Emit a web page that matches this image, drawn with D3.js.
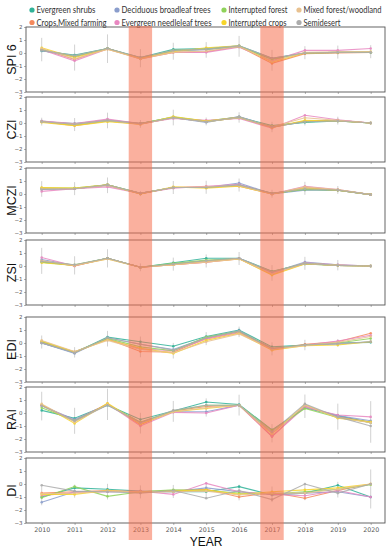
<!DOCTYPE html>
<html>
<head>
<meta charset="utf-8">
<script src="https://cdn.jsdelivr.net/npm/d3@7/dist/d3.min.js"></script>
<style>
  body { margin: 0; background: #fff; }
  svg { display: block; }
</style>
</head>
<body>
<svg id="chart" width="392" height="550"></svg>
<script>
var years = [2010, 2011, 2012, 2013, 2014, 2015, 2016, 2017, 2018, 2019, 2020];
var seriesNames = ["Evergreen shrubs", "Crops,Mixed farming", "Deciduous broadleaf trees", "Evergreen needleleaf trees",
  "Interrupted forest", "Interrupted crops", "Mixed forest/woodland", "Semidesert"];
var seriesColors = ["#2fb298", "#f4895c", "#8a9dcc", "#e887c1", "#8fd25a", "#f7d52a", "#e8c190", "#acacac"];
var indexNames = ["SPI 6", "CZI", "MCZI", "ZSI", "EDI", "RAI", "DI"];
var yTicks = [2, 1, 0, -1, -2, -3];
var droughtYears = [2013, 2017];

// one row per land cover class, same order as seriesNames
var spi6 = [
  [0.15, -0.15, 0.35, -0.35, 0.28, 0.35, 0.55, -0.4, 0.0, 0.05, 0.05],
  [0.3, -0.5, 0.35, -0.45, 0.05, 0.1, 0.5, -0.8, -0.05, 0.0, 0.05],
  [0.2, -0.3, 0.35, -0.4, 0.15, 0.25, 0.5, -0.45, 0.0, 0.05, 0.05],
  [0.25, -0.6, 0.3, -0.4, 0.05, 0.05, 0.45, -0.6, 0.2, 0.2, 0.35],
  [0.25, -0.25, 0.35, -0.4, 0.2, 0.3, 0.5, -0.5, 0.0, 0.05, 0.05],
  [0.4, -0.35, 0.3, -0.4, 0.1, 0.4, 0.55, -0.7, 0.0, 0.05, 0.1],
  [0.35, -0.45, 0.3, -0.45, 0.05, 0.15, 0.5, -0.65, 0.05, 0.1, 0.1],
  [0.2, -0.2, 0.35, -0.35, 0.2, 0.3, 0.55, -0.4, 0.0, 0.05, 0.05]
];
var czi = [
  [0.1, -0.05, 0.2, -0.05, 0.45, 0.15, 0.45, -0.2, 0.05, 0.15, 0.0],
  [0.1, -0.2, 0.15, -0.1, 0.4, 0.1, 0.4, -0.35, 0.15, 0.2, 0.0],
  [0.15, -0.1, 0.25, -0.05, 0.4, 0.05, 0.5, -0.3, 0.1, 0.2, 0.0],
  [0.15, -0.05, 0.3, -0.05, 0.35, 0.2, 0.35, -0.4, 0.6, 0.25, 0.0],
  [0.1, -0.15, 0.15, -0.05, 0.45, 0.1, 0.4, -0.25, 0.1, 0.15, 0.0],
  [0.05, -0.2, 0.1, -0.1, 0.5, 0.15, 0.45, -0.35, 0.2, 0.15, 0.0],
  [0.1, -0.1, 0.2, -0.1, 0.4, 0.1, 0.4, -0.3, 0.4, 0.2, 0.0],
  [0.1, -0.1, 0.2, -0.05, 0.4, 0.1, 0.45, -0.3, 0.1, 0.15, 0.0]
];
var mczi = [
  [0.4, 0.4, 0.7, 0.05, 0.5, 0.5, 0.7, 0.05, 0.35, 0.3, -0.05],
  [0.45, 0.4, 0.7, 0.0, 0.5, 0.55, 0.6, 0.0, 0.5, 0.3, -0.05],
  [0.35, 0.4, 0.65, 0.05, 0.5, 0.5, 0.85, 0.0, 0.3, 0.3, -0.05],
  [0.2, 0.4, 0.55, 0.05, 0.45, 0.6, 0.75, 0.0, 0.6, 0.35, -0.05],
  [0.45, 0.45, 0.7, 0.05, 0.5, 0.5, 0.65, 0.05, 0.35, 0.3, -0.05],
  [0.5, 0.45, 0.7, 0.0, 0.55, 0.45, 0.6, 0.0, 0.45, 0.3, -0.05],
  [0.4, 0.4, 0.65, 0.05, 0.5, 0.55, 0.65, 0.0, 0.55, 0.35, -0.05],
  [0.35, 0.4, 0.7, 0.05, 0.5, 0.5, 0.7, 0.05, 0.4, 0.3, -0.05]
];
var zsi = [
  [0.3, 0.05, 0.6, -0.1, 0.25, 0.6, 0.6, -0.4, 0.15, 0.05, 0.0],
  [0.4, 0.0, 0.6, -0.1, 0.1, 0.3, 0.55, -0.65, 0.2, 0.05, 0.0],
  [0.5, 0.05, 0.6, -0.1, 0.15, 0.4, 0.6, -0.5, 0.3, 0.1, 0.0],
  [0.65, 0.0, 0.6, -0.1, 0.1, 0.3, 0.6, -0.55, 0.25, 0.1, 0.0],
  [0.3, 0.1, 0.6, -0.1, 0.2, 0.45, 0.55, -0.45, 0.2, 0.05, 0.0],
  [0.25, 0.05, 0.55, -0.1, 0.1, 0.35, 0.55, -0.7, 0.15, 0.05, 0.0],
  [0.4, 0.05, 0.55, -0.1, 0.1, 0.3, 0.55, -0.6, 0.2, 0.05, 0.0],
  [0.35, 0.1, 0.6, -0.1, 0.15, 0.4, 0.6, -0.45, 0.2, 0.05, 0.0]
];
var edi = [
  [0.0, -0.75, 0.45, 0.1, -0.25, 0.5, 1.0, -0.3, -0.15, 0.0, 0.05],
  [0.1, -0.7, 0.3, -0.65, -0.7, 0.35, 0.85, -0.5, -0.1, 0.1, 0.75],
  [0.0, -0.8, 0.4, -0.1, -0.5, 0.4, 0.95, -0.45, -0.15, -0.1, 0.1],
  [0.05, -0.7, 0.3, -0.45, -0.6, 0.3, 0.8, -0.5, -0.15, 0.15, 0.6],
  [0.1, -0.7, 0.35, -0.3, -0.6, 0.45, 0.9, -0.4, -0.15, 0.0, 0.35],
  [0.15, -0.7, 0.25, -0.4, -0.8, 0.2, 0.75, -0.55, -0.2, -0.15, 0.1],
  [0.2, -0.65, 0.2, -0.5, -0.75, 0.1, 0.7, -0.5, -0.2, 0.05, 0.5],
  [0.0, -0.75, 0.4, -0.1, -0.55, 0.4, 0.9, -0.4, -0.15, -0.05, 0.1]
];
var rai = [
  [0.2, -0.4, 0.6, -0.5, 0.15, 0.85, 0.65, -1.3, 0.4, -0.2, -0.75],
  [0.6, -0.6, 0.7, -0.9, 0.15, 0.5, 0.6, -1.8, 0.55, -0.3, -0.7],
  [0.55, -0.5, 0.65, -0.75, 0.1, 0.1, 0.6, -1.55, 0.45, -0.2, -0.6],
  [0.6, -0.6, 0.7, -1.0, 0.05, 0.0, 0.6, -1.8, 0.45, -0.15, -0.3],
  [0.4, -0.6, 0.65, -0.7, 0.15, 0.6, 0.6, -1.35, 0.35, -0.35, -0.7],
  [0.65, -0.8, 0.75, -0.85, 0.1, 0.35, 0.6, -1.6, 0.65, -0.4, -0.7],
  [0.7, -0.7, 0.65, -0.8, 0.1, 0.4, 0.6, -1.6, 0.6, -0.35, -0.75],
  [0.55, -0.6, 0.6, -0.75, 0.2, 0.6, 0.6, -1.45, 0.7, -0.3, -1.0]
];
var di = [
  [-1.0, -0.3, -0.4, -0.55, -0.6, -0.6, -0.2, -0.85, -0.7, -0.1, -1.0],
  [-0.7, -0.6, -0.5, -0.6, -0.5, -0.4, -1.0, -0.65, -1.1, -0.5, 0.0],
  [-1.4, -0.6, -0.6, -0.6, -0.6, -0.3, -0.6, -0.8, -0.7, -0.6, -1.0],
  [-0.9, -0.65, -0.6, -0.55, -0.8, 0.05, -0.6, -0.8, -0.9, -0.5, -1.0],
  [-1.05, -0.2, -0.95, -0.6, -0.45, -0.5, -0.7, -0.75, -0.6, -0.4, -0.05],
  [-0.8, -0.8, -0.5, -0.65, -0.55, -0.45, -0.8, -0.6, -0.45, -0.3, 0.0],
  [-0.75, -0.7, -0.55, -0.6, -0.6, -0.55, -0.85, -0.7, -0.7, -0.4, 0.0],
  [-0.1, -0.55, -0.6, -0.7, -0.5, -1.1, -0.5, -1.2, 0.0, -0.7, 0.0]
];
var indexValues = [spi6, czi, mczi, zsi, edi, rai, di];

// error bar half-widths per year, one row per index
var indexErrors = [
  [0.9, 1.0, 1.1, 0.7, 0.65, 0.6, 0.8, 0.8, 0.5, 0.5, 0.5],
  [0.3, 0.5, 0.6, 0.3, 0.6, 0.3, 0.4, 0.4, 0.4, 0.3, 0.1],
  [0.6, 0.5, 0.6, 0.2, 0.5, 0.5, 0.5, 0.3, 0.5, 0.3, 0.1],
  [1.0, 0.7, 0.7, 0.3, 0.5, 0.5, 0.5, 0.6, 0.5, 0.4, 0.1],
  [0.5, 0.4, 0.6, 0.8, 0.6, 0.5, 0.4, 0.5, 0.4, 0.3, 0.3],
  [1.1, 1.0, 1.2, 0.8, 0.8, 0.7, 0.8, 0.7, 0.9, 1.0, 1.6],
  [0.8, 0.5, 0.6, 0.5, 0.5, 0.6, 0.6, 0.6, 0.6, 0.6, 1.5]
];

var svg = d3.select("#chart");
var left = 26, right = 385;
var panelTops = [27, 97, 168, 240, 317, 387, 458];
var panelH = 65;

var x = d3.scaleLinear().domain([2010, 2020]).range([41.7, 370.7]);

// legend (matplotlib ncol=4 fills column-major)
var legendX = [32, 117, 224, 299];
var legendY = [10, 22.5];
var legendTextW = [59, 70, 89, 90, 59, 58, 78, 37];
var legend = svg.append("g").attr("class", "legend");
seriesNames.forEach(function(name, i) {
  var col = Math.floor(i / 2), row = i % 2;
  var g = legend.append("g").attr("transform", "translate(" + legendX[col] + "," + legendY[row] + ")");
  g.append("circle").attr("r", 2.6).attr("fill", seriesColors[i]);
  g.append("text").attr("x", 4.5).attr("y", 3)
    .attr("font-family", "Lato, sans-serif").attr("font-size", 8.5).attr("fill", "#333")
    .attr("textLength", legendTextW[i]).attr("lengthAdjust", "spacingAndGlyphs")
    .text(name);
});

indexNames.forEach(function(label, k) {
  var top = panelTops[k];
  var y = d3.scaleLinear().domain([-3, 2]).range([top + panelH, top]);
  var g = svg.append("g").attr("class", "panel");

  g.append("rect").attr("x", left).attr("y", top).attr("width", right - left).attr("height", panelH)
    .attr("fill", "none").attr("stroke", "#555").attr("stroke-width", 0.9);

  var yAxis = d3.axisLeft(y).tickValues(yTicks).tickSize(2).tickFormat(d3.format("d"));
  var ya = g.append("g").attr("transform", "translate(" + left + ",0)").call(yAxis);
  ya.select(".domain").remove();
  ya.selectAll("line").attr("stroke", "#666").attr("stroke-width", 0.5);
  ya.selectAll("text").attr("font-size", 5.5).attr("fill", "#555").attr("x", -3.5)
    .attr("font-family", "DejaVu Sans, sans-serif").text(function(d) { return d < 0 ? "\u2212" + Math.abs(d) : d; });

  var xAxis = d3.axisBottom(x).tickValues(years).tickSize(2).tickFormat(k == indexNames.length - 1 ? d3.format("d") : "");
  var xa = g.append("g").attr("transform", "translate(0," + (top + panelH) + ")").call(xAxis);
  xa.select(".domain").remove();
  xa.selectAll("line").attr("stroke", "#666").attr("stroke-width", 0.5);
  xa.selectAll("text").attr("font-size", 6.3).attr("fill", "#555").attr("y", 5)
    .attr("font-family", "DejaVu Sans, sans-serif");

  g.append("text").attr("transform", "translate(16," + (top + panelH / 2) + ") rotate(-90)")
    .attr("text-anchor", "middle").attr("font-family", "Liberation Sans, Arial, sans-serif")
    .attr("font-size", 12.5).attr("fill", "#111").text(label);

  var values = indexValues[k];
  var errs = indexErrors[k];

  // error bars around the class mean
  years.forEach(function(yr, j) {
    var m = d3.mean(values, function(s) { return s[j]; });
    g.append("line").attr("x1", x(yr)).attr("x2", x(yr))
      .attr("y1", y(Math.min(2, m + errs[j]))).attr("y2", y(Math.max(-3, m - errs[j])))
      .attr("stroke", "#b8b8b8").attr("stroke-width", 0.9).attr("opacity", 0.7);
  });

  var line = d3.line().x(function(d, j) { return x(years[j]); }).y(function(d) { return y(d); });
  values.forEach(function(s, i) {
    g.append("path").datum(s).attr("d", line).attr("fill", "none")
      .attr("stroke", seriesColors[i]).attr("stroke-width", 1.1).attr("opacity", 0.85);
    g.selectAll(null).data(s).enter().append("circle")
      .attr("cx", function(d, j) { return x(years[j]); }).attr("cy", function(d) { return y(d); })
      .attr("r", 1.3).attr("fill", seriesColors[i]).attr("opacity", 0.85);
  });
});

// drought year shading drawn over the panels
droughtYears.forEach(function(yr) {
  svg.append("rect").attr("x", x(yr) - 11.7).attr("width", 23.4)
    .attr("y", 26).attr("height", 514)
    .attr("fill", "#f5704f").attr("opacity", 0.55);
});

svg.append("text").attr("x", 206).attr("y", 546).attr("text-anchor", "middle")
  .attr("font-family", "Liberation Sans, Arial, sans-serif").attr("font-size", 12)
  .attr("fill", "#111").text("YEAR");
</script>
</body>
</html>
